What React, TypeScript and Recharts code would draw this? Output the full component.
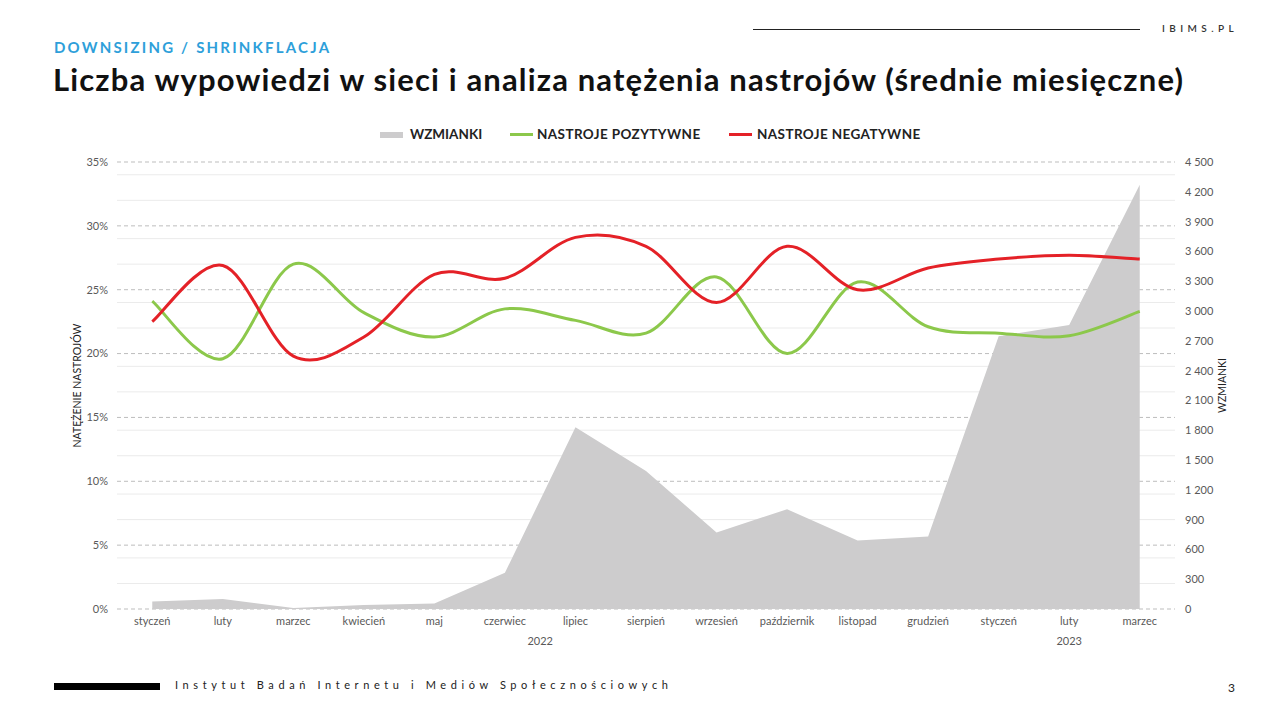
import React from 'react';
import {
  ComposedChart,
  Area,
  Line,
  XAxis,
  YAxis,
  CartesianGrid,
} from 'recharts';

const months = [
  'styczeń', 'luty', 'marzec', 'kwiecień', 'maj', 'czerwiec', 'lipiec', 'sierpień',
  'wrzesień', 'październik', 'listopad', 'grudzień', 'styczeń', 'luty', 'marzec',
];
const mentions = [75, 100, 10, 40, 55, 365, 1830, 1390, 770, 1005, 690, 730, 2745, 2860, 4270];
const positive = [24.1, 19.6, 27.0, 23.2, 21.3, 23.5, 22.6, 21.6, 26.0, 20.0, 25.6, 22.1, 21.6, 21.4, 23.3];
const negative = [22.5, 26.9, 19.8, 21.3, 26.2, 25.9, 29.1, 28.4, 24.0, 28.4, 25.0, 26.7, 27.4, 27.7, 27.4];
const years = [
  { label: '2022', first: 0, last: 11 },
  { label: '2023', first: 12, last: 14 },
];
const pctTicks = [0, 5, 10, 15, 20, 25, 30, 35];
const countTicks = [0, 300, 600, 900, 1200, 1500, 1800, 2100, 2400, 2700, 3000, 3300, 3600, 3900, 4200, 4500];
const minorTicks = Array.from({ length: 36 }, (_, i) => i).filter(v => v % 5 !== 0);

const data = months.map((m, i) => ({
  idx: i,
  month: m,
  mentions: mentions[i],
  positive: positive[i],
  negative: negative[i],
}));

const yearTicks = years.map(y => (y.first + y.last) / 2);

const FONT = 'Lato, "Open Sans", sans-serif';
const AXIS_TEXT = { fill: '#595959', fontSize: 11, fontFamily: FONT };

// Excel-like smoothed line (Catmull-Rom through every point)
function excelSmooth(context: any) {
  let pts: number[][] = [];
  return {
    areaStart() {},
    areaEnd() {},
    lineStart() {
      pts = [];
    },
    point(x: number, y: number) {
      pts.push([x, y]);
    },
    lineEnd() {
      if (!pts.length) return;
      context.moveTo(pts[0][0], pts[0][1]);
      for (let i = 0; i < pts.length - 1; i++) {
        const p0 = pts[i - 1] || pts[i];
        const p1 = pts[i];
        const p2 = pts[i + 1];
        const p3 = pts[i + 2] || p2;
        context.bezierCurveTo(
          p1[0] + (p2[0] - p0[0]) / 6,
          p1[1] + (p2[1] - p0[1]) / 6,
          p2[0] - (p3[0] - p1[0]) / 6,
          p2[1] - (p3[1] - p1[1]) / 6,
          p2[0],
          p2[1],
        );
      }
    },
  };
}

// 4500 -> "4 500"
const fmtCount = (v: number) => v.toLocaleString('pl-PL', { useGrouping: true }).replace(/\s/g, '\u00A0');

const legendText = { position: 'absolute' as const, top: 126, fontSize: 13.5, fontWeight: 700, color: '#222', whiteSpace: 'nowrap' as const };

export default function App() {
  return (
    <div style={{ position: 'absolute', left: 0, top: 0, width: 1280, height: 720, background: '#fff', fontFamily: FONT, overflow: 'hidden' }}>
      {/* header */}
      <div style={{ position: 'absolute', left: 753, top: 29, width: 387, borderTop: '1px solid #222' }} />
      <div style={{ position: 'absolute', left: 1162, top: 22, fontSize: 10, letterSpacing: 4.4, color: '#333', fontWeight: 600 }}>IBIMS.PL</div>
      <div style={{ position: 'absolute', left: 54, top: 38, fontSize: 15, letterSpacing: 2.2, color: '#2E9FDA', fontWeight: 700 }}>
        DOWNSIZING / SHRINKFLACJA
      </div>
      <div style={{ position: 'absolute', left: 53, top: 60, fontSize: 31, letterSpacing: 1.15, color: '#111', fontWeight: 700, whiteSpace: 'nowrap' }}>
        Liczba wypowiedzi w sieci i analiza natężenia nastrojów (średnie miesięczne)
      </div>

      {/* legend */}
      <div style={{ position: 'absolute', left: 380, top: 132, width: 23, height: 6, background: '#CDCCCD' }} />
      <div style={{ ...legendText, left: 410 }}>WZMIANKI</div>
      <div style={{ position: 'absolute', left: 510, top: 133, width: 23, height: 3, background: '#8CC84B' }} />
      <div style={{ ...legendText, left: 537, letterSpacing: 0.4 }}>NASTROJE POZYTYWNE</div>
      <div style={{ position: 'absolute', left: 729, top: 133, width: 23, height: 3, background: '#E42127' }} />
      <div style={{ ...legendText, left: 757, letterSpacing: 0.4 }}>NASTROJE NEGATYWNE</div>

      {/* chart */}
      <div style={{ position: 'absolute', left: 0, top: 110 }}>
        <ComposedChart width={1280} height={560} data={data} margin={{ top: 52, right: 45, left: 60, bottom: 15 }}>
          <CartesianGrid
            yAxisId="pct"
            vertical={false}
            horizontalValues={minorTicks}
            stroke="#EBEBEB"
            strokeWidth={1}
          />
          <CartesianGrid
            yAxisId="pct"
            vertical={false}
            horizontalValues={pctTicks}
            stroke="#BDBDBD"
            strokeDasharray="4 3"
            strokeWidth={1}
          />
          <XAxis
            dataKey="idx"
            type="category"
            scale="band"
            tickFormatter={(i: number) => months[i]}
            axisLine={false}
            tickLine={false}
            tickSize={0}
            tickMargin={8}
            interval={0}
            height={22}
            tick={AXIS_TEXT}
          />
          <XAxis
            xAxisId="year"
            dataKey="idx"
            type="number"
            domain={[-0.5, months.length - 0.5]}
            ticks={yearTicks}
            tickFormatter={(v: number) => years.find(y => (y.first + y.last) / 2 === v)?.label ?? ''}
            axisLine={false}
            tickLine={false}
            tickSize={0}
            tickMargin={6}
            height={24}
            tick={AXIS_TEXT}
          />
          <YAxis
            yAxisId="pct"
            domain={[0, 35]}
            ticks={pctTicks}
            tickFormatter={(v: number) => `${v}%`}
            axisLine={false}
            tickLine={false}
            tickSize={0}
            tickMargin={9}
            width={57}
            tick={AXIS_TEXT}
            label={{
              value: 'NATĘŻENIE NASTROJÓW',
              angle: -90,
              position: 'insideLeft',
              offset: 17,
              style: { textAnchor: 'middle', fill: '#222', fontSize: 10.5, fontFamily: FONT },
            }}
          />
          <YAxis
            yAxisId="count"
            orientation="right"
            domain={[0, 4500]}
            ticks={countTicks}
            tickFormatter={fmtCount}
            axisLine={false}
            tickLine={false}
            tickSize={0}
            tickMargin={10}
            width={60}
            tick={{ ...AXIS_TEXT, textAnchor: 'start' }}
            label={{
              value: 'WZMIANKI',
              angle: -90,
              position: 'insideRight',
              offset: 13,
              style: { textAnchor: 'middle', fill: '#222', fontSize: 10.5, fontFamily: FONT },
            }}
          />
          <Area
            yAxisId="count"
            dataKey="mentions"
            name="WZMIANKI"
            type="linear"
            stroke="none"
            fill="#CDCCCD"
            fillOpacity={1}
            isAnimationActive={false}
          />
          <Line
            yAxisId="pct"
            dataKey="positive"
            name="NASTROJE POZYTYWNE"
            type={excelSmooth as any}
            stroke="#8CC84B"
            strokeWidth={3}
            dot={false}
            activeDot={false}
            isAnimationActive={false}
          />
          <Line
            yAxisId="pct"
            dataKey="negative"
            name="NASTROJE NEGATYWNE"
            type={excelSmooth as any}
            stroke="#E42127"
            strokeWidth={3}
            dot={false}
            activeDot={false}
            isAnimationActive={false}
          />
        </ComposedChart>
      </div>

      {/* footer */}
      <div style={{ position: 'absolute', left: 54, top: 683, width: 106, height: 7, background: '#000' }} />
      <div style={{ position: 'absolute', left: 175, top: 678, fontSize: 11, letterSpacing: 4.6, color: '#222', whiteSpace: 'nowrap' }}>
        Instytut Badań Internetu i Mediów Społecznościowych
      </div>
      <div style={{ position: 'absolute', left: 1228, top: 680, fontSize: 12, color: '#222' }}>3</div>
    </div>
  );
}
